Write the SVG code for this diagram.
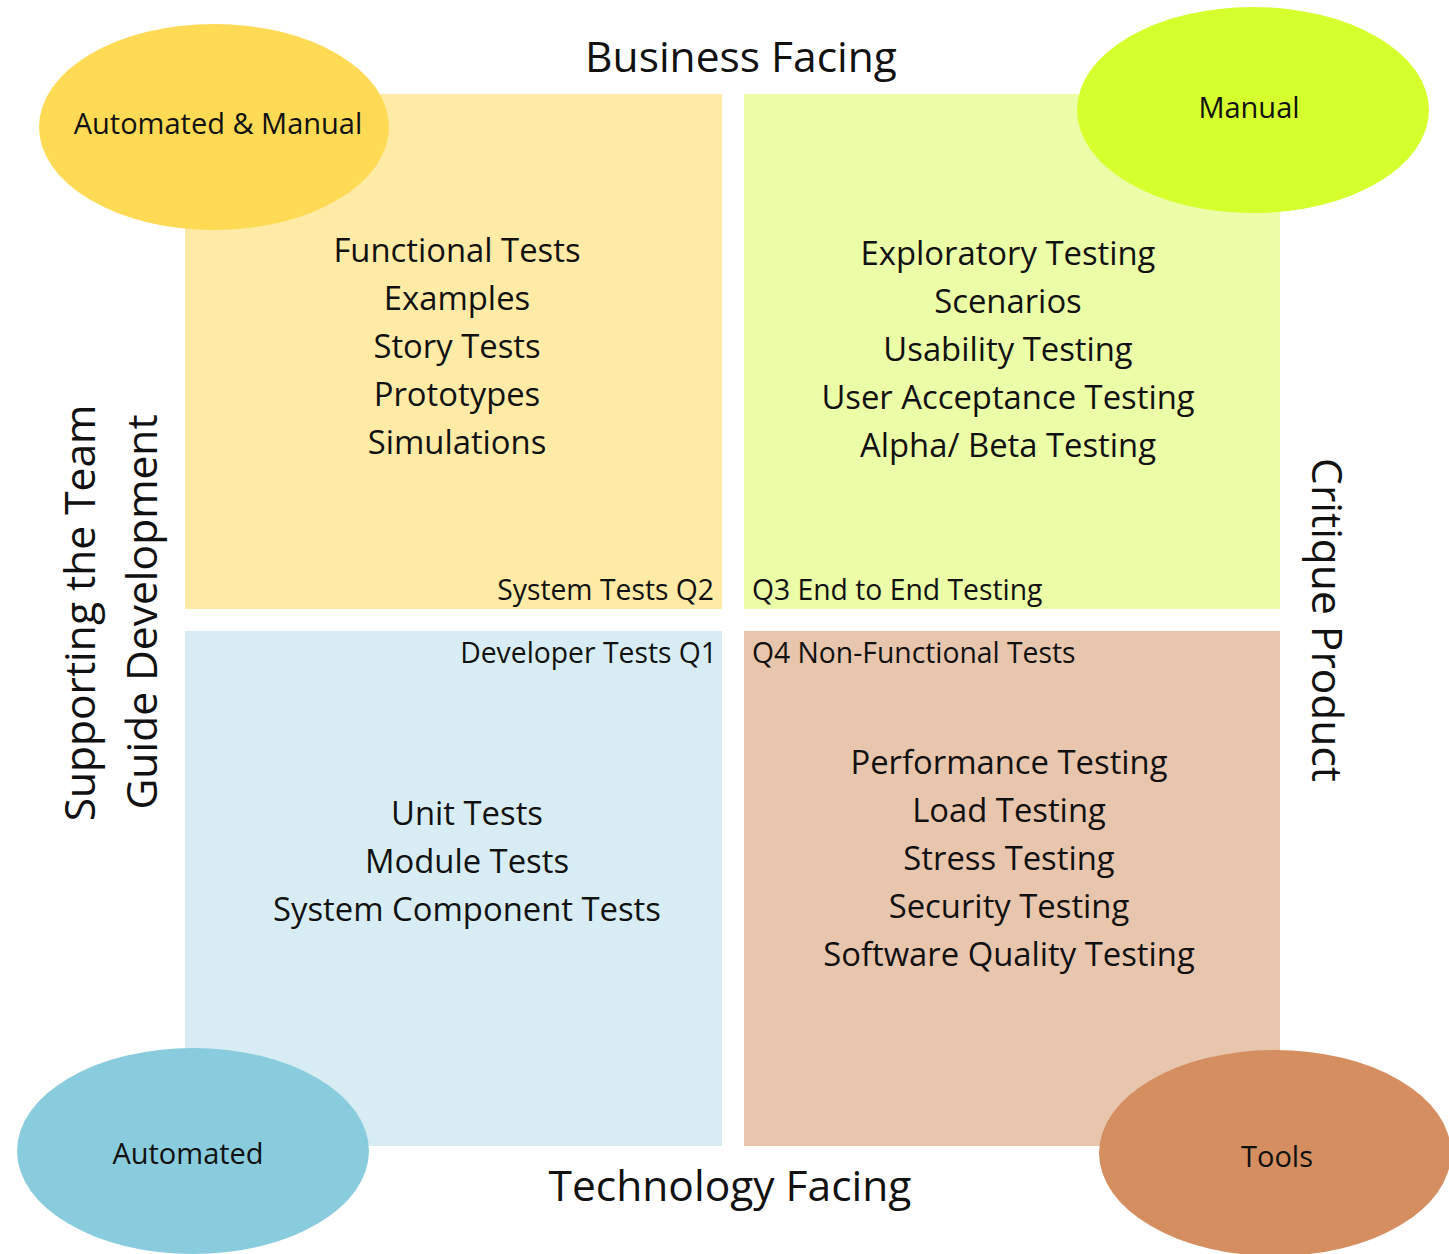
<svg xmlns="http://www.w3.org/2000/svg" width="1449" height="1254" viewBox="0 0 1449 1254">
  <style>
    text { font-family: "Open Sans", "Liberation Sans", sans-serif; fill: #111111; }
    .axis { font-size: 42.5px; }
    .item { font-size: 32.8px; text-anchor: middle; }
    .tag { font-size: 28.3px; }
    .oval { font-size: 29px; text-anchor: middle; }
    .end { text-anchor: end; }
    .mid { text-anchor: middle; }
  </style>

  <rect width="1449" height="1254" fill="#ffffff"/>

  <!-- Q2: business facing, supporting the team -->
  <g id="q2">
    <rect x="185" y="94" width="537" height="515" fill="#FFEBA6"/>
    <text class="item" x="457" y="262">Functional Tests</text>
    <text class="item" x="457" y="310">Examples</text>
    <text class="item" x="457" y="358">Story Tests</text>
    <text class="item" x="457" y="406">Prototypes</text>
    <text class="item" x="457" y="454">Simulations</text>
    <text class="tag end" x="714" y="600">System Tests Q2</text>
  </g>

  <!-- Q3: business facing, critique product -->
  <g id="q3">
    <rect x="744" y="94" width="536" height="515" fill="#EBFDA7"/>
    <text class="item" x="1008" y="265">Exploratory Testing</text>
    <text class="item" x="1008" y="313">Scenarios</text>
    <text class="item" x="1008" y="361">Usability Testing</text>
    <text class="item" x="1008" y="409">User Acceptance Testing</text>
    <text class="item" x="1008" y="457">Alpha/ Beta Testing</text>
    <text class="tag" x="752" y="600">Q3 End to End Testing</text>
  </g>

  <!-- Q1: technology facing, supporting the team -->
  <g id="q1">
    <rect x="185" y="631" width="537" height="515" fill="#D8EDF3"/>
    <text class="tag end" x="717" y="663">Developer Tests Q1</text>
    <text class="item" x="467" y="825">Unit Tests</text>
    <text class="item" x="467" y="873">Module Tests</text>
    <text class="item" x="467" y="921">System Component Tests</text>
  </g>

  <!-- Q4: technology facing, critique product -->
  <g id="q4">
    <rect x="744" y="631" width="536" height="515" fill="#E8C5AD"/>
    <text class="tag" x="752" y="663">Q4 Non-Functional Tests</text>
    <text class="item" x="1009" y="774">Performance Testing</text>
    <text class="item" x="1009" y="822">Load Testing</text>
    <text class="item" x="1009" y="870">Stress Testing</text>
    <text class="item" x="1009" y="918">Security Testing</text>
    <text class="item" x="1009" y="966">Software Quality Testing</text>
  </g>

  <!-- Corner ovals: how each quadrant is tested -->
  <g id="automated-manual">
    <ellipse cx="214" cy="127" rx="175" ry="103" fill="#FFDA55"/>
    <text class="oval" x="218" y="134">Automated &amp; Manual</text>
  </g>
  <g id="manual">
    <ellipse cx="1253" cy="110" rx="176" ry="103" fill="#D6FF2E"/>
    <text class="oval" x="1249" y="118">Manual</text>
  </g>
  <g id="automated">
    <ellipse cx="193" cy="1151" rx="176" ry="103" fill="#89CCDD"/>
    <text class="oval" x="188" y="1164">Automated</text>
  </g>
  <g id="tools">
    <ellipse cx="1275" cy="1153" rx="176" ry="103" fill="#D48E60"/>
    <text class="oval" x="1277" y="1167">Tools</text>
  </g>

  <!-- Axis labels -->
  <g id="axes">
    <text class="axis mid" x="741" y="72">Business Facing</text>
    <text class="axis mid" x="730" y="1201">Technology Facing</text>
    <text class="axis mid" transform="translate(95,613) rotate(-90)">Supporting the Team</text>
    <text class="axis mid" transform="translate(157,612) rotate(-90)">Guide Development</text>
    <text class="axis mid" transform="translate(1312,620) rotate(90)">Critique Product</text>
  </g>
</svg>
